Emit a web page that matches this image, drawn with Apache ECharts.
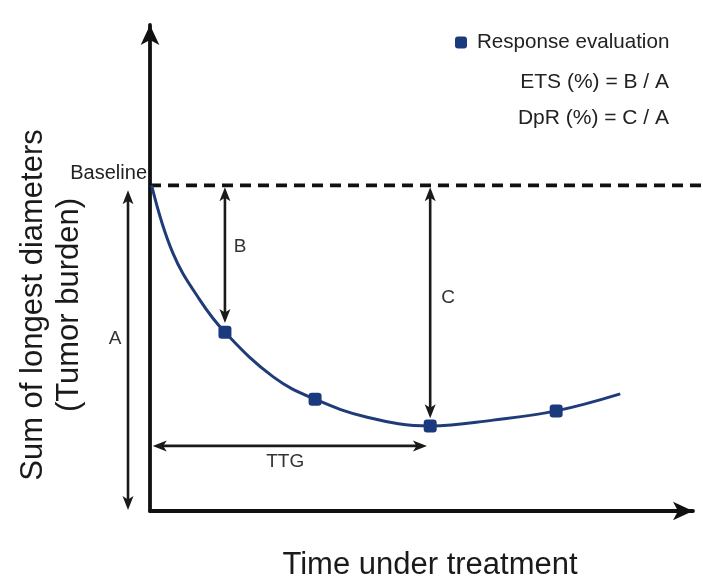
<!DOCTYPE html>
<html>
<head>
<meta charset="utf-8">
<script src="https://cdn.jsdelivr.net/npm/echarts@6/dist/echarts.min.js"></script>
<style>html,body{margin:0;padding:0;background:#fff}#chart{width:703px;height:577px}</style>
</head>
<body>
<div id="chart"></div>
<script>
// Tumor burden curve (time units 0-10, burden units 0-100)
const curveTime   = [0.03, 0.42, 0.92, 1.38, 2.27, 3.04, 4.00, 5.16, 6.32, 7.48, 8.66];
const curveBurden = [67.0, 53.1, 43.4, 36.8, 27.6, 23.0, 19.3, 17.5, 18.7, 20.6, 24.1];
// Response evaluations
const evalTime   = [1.38, 3.04, 5.16, 7.48];
const evalBurden = [36.8, 23.0, 17.5, 20.6];
// Baseline
const baselineValue = 67;
const baselineEnd = 10.18;
// Double-headed measurement arrows: [t1, v1, t2, v2]
const arrowNames = ['A', 'B', 'C', 'TTG'];
const arrowStart = [[-0.405, 66.0], [1.38, 66.6], [5.16, 66.6], [0.05, 13.4]];
const arrowEnd   = [[-0.405, 0.2],  [1.38, 38.7], [5.16, 19.1], [5.10, 13.4]];
// Arrow labels
const labelNames  = ['A', 'B', 'C', 'TTG'];
const labelTime   = [-0.645, 1.66, 5.49, 2.49];
const labelBurden = [35.4, 54.3, 43.8, 10.1];

const FONT = 'Liberation Sans, Arial, sans-serif';
const chart = echarts.init(document.getElementById('chart'));

function arrowItem(params, api) {
  const p1 = api.coord([api.value(0), api.value(1)]);
  const p2 = api.coord([api.value(2), api.value(3)]);
  const dx = p2[0] - p1[0], dy = p2[1] - p1[1];
  const len = Math.sqrt(dx * dx + dy * dy);
  const ux = dx / len, uy = dy / len, nx = -uy, ny = ux;
  const L = 14, W = 5.5;
  const head = (tip, s) => [
    [tip[0], tip[1]],
    [tip[0] - s * L * ux + W * nx, tip[1] - s * L * uy + W * ny],
    [tip[0] - s * 0.75 * L * ux, tip[1] - s * 0.75 * L * uy],
    [tip[0] - s * L * ux - W * nx, tip[1] - s * L * uy - W * ny]
  ];
  return {
    type: 'group',
    children: [
      { type: 'line', shape: { x1: p1[0] + ux * 6, y1: p1[1] + uy * 6, x2: p2[0] - ux * 6, y2: p2[1] - uy * 6 },
        style: { stroke: '#1a1a1a', lineWidth: 2.6 } },
      { type: 'polygon', shape: { points: head(p2, 1) }, style: { fill: '#1a1a1a' } },
      { type: 'polygon', shape: { points: head(p1, -1) }, style: { fill: '#1a1a1a' } }
    ]
  };
}

const option = {
  animation: false,
  backgroundColor: '#fff',
  grid: { left: 150, right: 10, top: 25, bottom: 66 },
  legend: {
    data: [{ name: 'Response evaluation', icon: 'roundRect' }],
    left: 450, top: 27, itemWidth: 12, itemHeight: 12,
    textStyle: { fontSize: 20.6, color: '#222', fontFamily: FONT, padding: [0, 0, 0, 5] }
  },
  xAxis: {
    type: 'value', min: 0, max: 10,
    axisLine: { show: true, lineStyle: { color: '#111', width: 3.8 }, symbol: ['none', 'arrow'], symbolSize: [14, 20] },
    axisTick: { show: false }, axisLabel: { show: false }, splitLine: { show: false }
  },
  yAxis: {
    type: 'value', min: 0, max: 100,
    axisLine: { show: true, lineStyle: { color: '#111', width: 3.8 }, symbol: ['none', 'arrow'], symbolSize: [14, 20] },
    axisTick: { show: false }, axisLabel: { show: false }, splitLine: { show: false }
  },
  graphic: [
    { type: 'text', x: 669, y: 82, style: { text: 'ETS (%) = B / A', fontSize: 21, fill: '#222', fontFamily: FONT, textAlign: 'right', textVerticalAlign: 'middle' } },
    { type: 'text', x: 669, y: 118, style: { text: 'DpR (%) = C / A', fontSize: 21, fill: '#222', fontFamily: FONT, textAlign: 'right', textVerticalAlign: 'middle' } },
    { type: 'text', x: 147, y: 173, style: { text: 'Baseline', fontSize: 20, fill: '#222', fontFamily: FONT, textAlign: 'right', textVerticalAlign: 'middle' } },
    { type: 'text', x: 430, y: 565, style: { text: 'Time under treatment', fontSize: 31, fill: '#1a1a1a', fontFamily: FONT, textAlign: 'center', textVerticalAlign: 'middle' } },
    { type: 'text', x: 51, y: 305, rotation: Math.PI / 2,
      style: { text: 'Sum of longest diameters\n(Tumor burden)', fontSize: 31, lineHeight: 36, fill: '#1a1a1a', fontFamily: FONT, textAlign: 'center', textVerticalAlign: 'middle' } }
  ],
  series: [
    {
      name: 'Baseline', type: 'custom', silent: true, clip: false,
      data: [[0, baselineValue, baselineEnd, baselineValue]],
      encode: { x: [0, 2], y: [1, 3] },
      renderItem: (params, api) => {
        const p1 = api.coord([api.value(0), api.value(1)]);
        const p2 = api.coord([api.value(2), api.value(3)]);
        return { type: 'line', shape: { x1: p1[0], y1: p1[1], x2: p2[0], y2: p2[1] },
          style: { stroke: '#111', lineWidth: 3.8, lineDash: [11, 7] } };
      }
    },
    {
      name: 'Tumor burden', type: 'line', smooth: 0.4, symbol: 'none', silent: true,
      data: curveTime.map((t, i) => [t, curveBurden[i]]),
      lineStyle: { color: '#1f3c78', width: 3 }
    },
    {
      name: 'Arrows', type: 'custom', silent: true, clip: false,
      data: arrowNames.map((n, i) => [arrowStart[i][0], arrowStart[i][1], arrowEnd[i][0], arrowEnd[i][1]]),
      encode: { x: [0, 2], y: [1, 3] },
      renderItem: arrowItem
    },
    {
      name: 'Labels', type: 'custom', silent: true, clip: false,
      data: labelNames.map((n, i) => [labelTime[i], labelBurden[i], n]),
      encode: { x: 0, y: 1 },
      renderItem: (params, api) => {
        const p = api.coord([api.value(0), api.value(1)]);
        return { type: 'text', x: p[0], y: p[1],
          style: { text: labelNames[params.dataIndex], fontSize: 19, fill: '#333', fontFamily: FONT, textAlign: 'center', textVerticalAlign: 'middle' } };
      }
    },
    {
      name: 'Response evaluation', type: 'scatter', symbol: 'roundRect', symbolSize: 13, silent: true,
      data: evalTime.map((t, i) => [t, evalBurden[i]]),
      itemStyle: { color: '#1b3a7d', opacity: 1 }, z: 5
    }
  ]
};
chart.setOption(option);
</script>
</body>
</html>
